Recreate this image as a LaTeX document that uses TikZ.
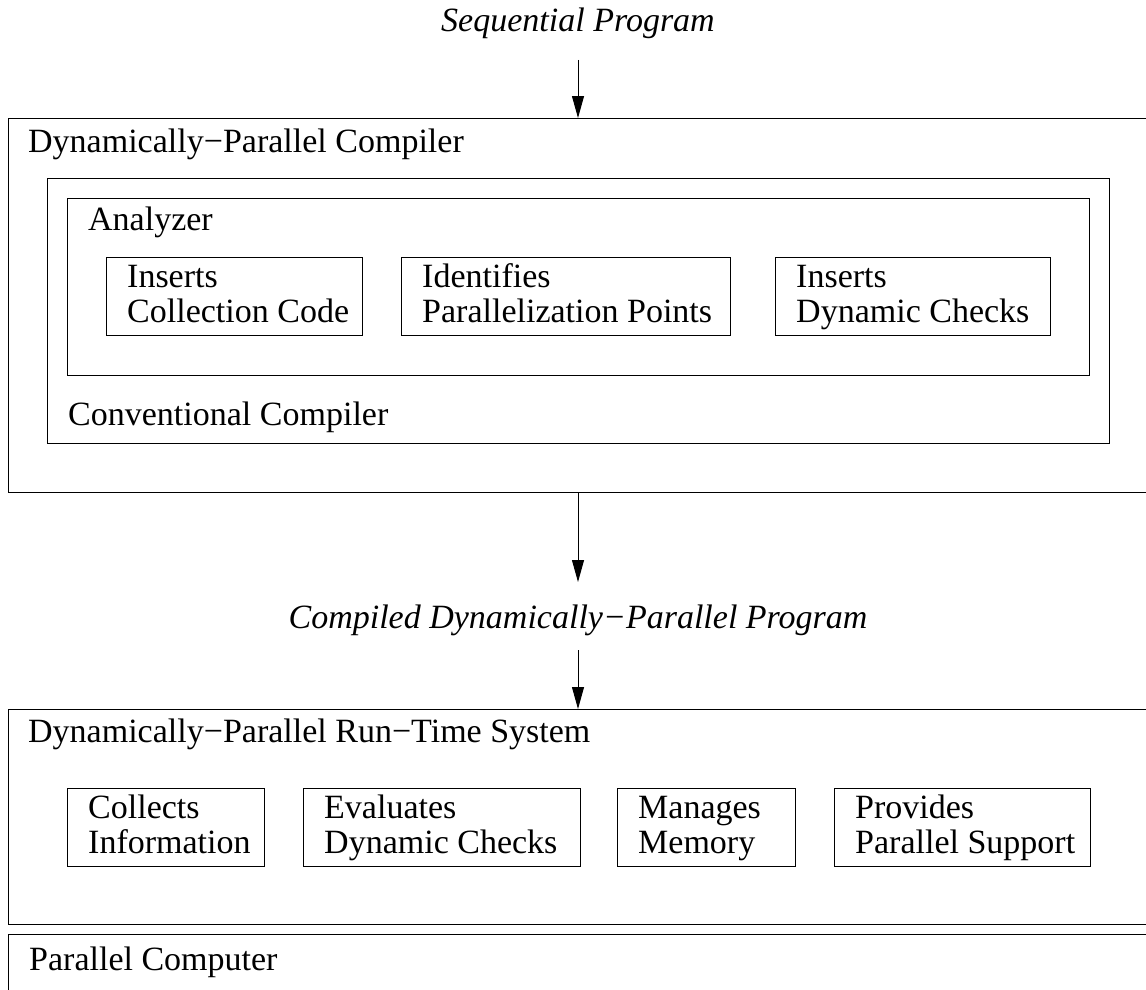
\documentclass[tikz,border=0pt]{standalone}
\usepackage{fontspec}
\setmainfont{Liberation Serif}
\usetikzlibrary{arrows.meta}
\begin{document}
\begin{tikzpicture}[x=1pt,y=-1pt,
  frame/.style={draw, line width=1.1pt, inner sep=0pt, anchor=north west},
  lbl/.style={font=\fontsize{34}{34}\selectfont, inner sep=0pt, anchor=base west},
  ilbl/.style={font=\fontsize{34}{34}\selectfont\itshape, inner sep=0pt, anchor=base},
  arr/.style={line width=1pt, -{Triangle[length=22pt,width=12pt]}}]
\useasboundingbox (0,0) rectangle (1146,990);
\clip (0,0) rectangle (1146,990);
% top input
\node[ilbl] (seq) at (578,32) {Sequential Program};
\coordinate (seqa) at (578,60);
% compiler
\node[frame, minimum width=1160pt, minimum height=374pt] (dpc) at (8,118) {};
\node[lbl] (dpct) at (28,152) {Dynamically−Parallel Compiler};
\node[frame, minimum width=1062pt, minimum height=265pt] (cc) at (47,178) {};
\node[lbl] (cct) at (68,425) {Conventional Compiler};
\node[frame, minimum width=1022pt, minimum height=177pt] (an) at (67,198) {};
\node[lbl] (ant) at (88,230) {Analyzer};
\node[frame, minimum width=256pt, minimum height=78pt] (b1) at (106,257) {};
\node[lbl] (b1a) at (127,287) {Inserts};
\node[lbl] (b1b) at (127,322) {Collection Code};
\node[frame, minimum width=329pt, minimum height=78pt] (b2) at (401,257) {};
\node[lbl] (b2a) at (422,287) {Identifies};
\node[lbl] (b2b) at (422,322) {Parallelization Points};
\node[frame, minimum width=275pt, minimum height=78pt] (b3) at (775,257) {};
\node[lbl] (b3a) at (796,287) {Inserts};
\node[lbl] (b3b) at (796,322) {Dynamic Checks};
% compiled program
\coordinate (dpcout) at (578,492);
\coordinate (cpin) at (578,582);
\node[ilbl] (cp) at (578,628) {Compiled Dynamically−Parallel Program};
\coordinate (cpout) at (578,650);
% run-time system
\node[frame, minimum width=1160pt, minimum height=215pt] (rts) at (8,709) {};
\node[lbl] (rtst) at (28,742) {Dynamically−Parallel Run−Time System};
\node[frame, minimum width=197pt, minimum height=78pt] (r1) at (67,788) {};
\node[lbl] (r1a) at (88,818) {Collects};
\node[lbl] (r1b) at (88,853) {Information};
\node[frame, minimum width=277pt, minimum height=78pt] (r2) at (303,788) {};
\node[lbl] (r2a) at (324,818) {Evaluates};
\node[lbl] (r2b) at (324,853) {Dynamic Checks};
\node[frame, minimum width=178pt, minimum height=78pt] (r3) at (617,788) {};
\node[lbl] (r3a) at (638,818) {Manages};
\node[lbl] (r3b) at (638,853) {Memory};
\node[frame, minimum width=256pt, minimum height=78pt] (r4) at (834,788) {};
\node[lbl] (r4a) at (855,818) {Provides};
\node[lbl] (r4b) at (855,853) {Parallel Support};
% parallel computer
\node[frame, minimum width=1160pt, minimum height=100pt] (pc) at (8,934) {};
\node[lbl] (pct) at (29,970) {Parallel Computer};
% arrows
\draw[arr] (seqa) -- (seqa |- dpc.north);
\draw[arr] (dpcout |- dpc.south) -- (cpin);
\draw[arr] (cpout) -- (cpout |- rts.north);
\end{tikzpicture}
\end{document}
